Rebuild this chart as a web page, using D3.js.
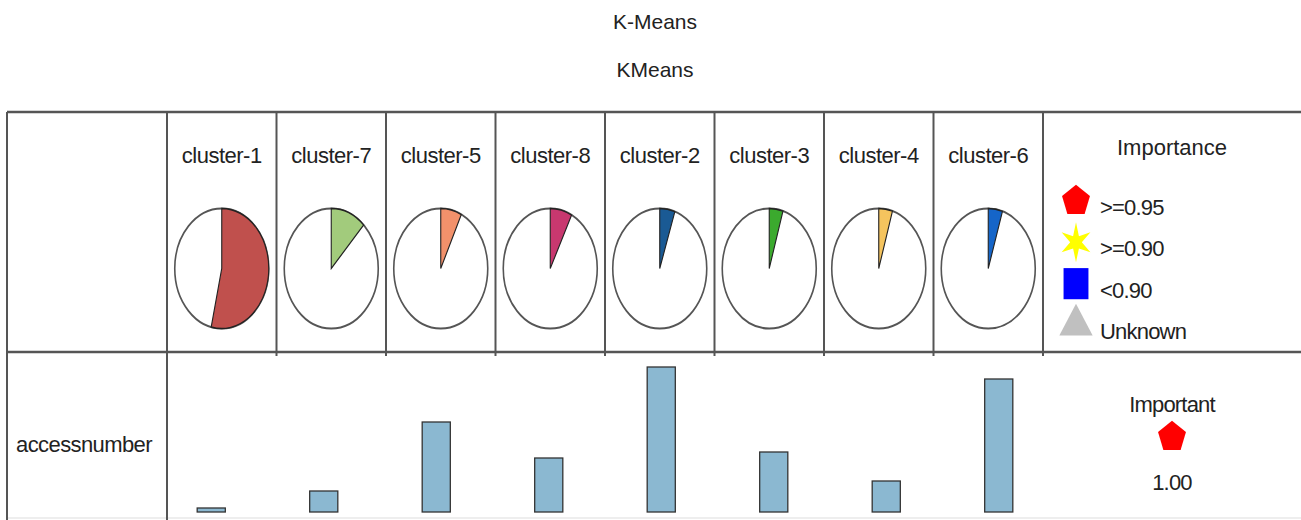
<!DOCTYPE html>
<html>
<head>
<meta charset="utf-8">
<script src="https://cdn.jsdelivr.net/npm/d3@7"></script>
<style>
  body { margin: 0; background: #fff; }
  svg text { font-family: "Liberation Sans", Arial, sans-serif; fill: #222; }
</style>
</head>
<body>
<svg id="chart" width="1301" height="520"></svg>
<script>
// data
var clusters = ['cluster-1', 'cluster-7', 'cluster-5', 'cluster-8', 'cluster-2', 'cluster-3', 'cluster-4', 'cluster-6'];
var clusterShare = [0.536, 0.121, 0.072, 0.075, 0.052, 0.047, 0.047, 0.049];
var clusterColors = ['#C0504D', '#A2CB7C', '#F2916B', '#C8386F', '#1A5A94', '#3BAA2E', '#F5C45E', '#1565C8'];
var accessnumber = [4, 21, 90, 54, 145, 60, 31, 133];
var legendLabels = ['>=0.95', '>=0.90', '<0.90', 'Unknown'];
var legendColors = ['#FF0000', '#FFFF00', '#0000FF', '#C0C0C0'];

// custom symbols (d3 has no pentagon / 6-point star)
function polySymbol(n, inner) {
    return {
        draw: function(ctx, size) {
            var r = Math.sqrt(size) * 0.62;
            var pts = inner ? n * 2 : n;
            for (var k = 0; k < pts; k++) {
                var a = -Math.PI / 2 + k * 2 * Math.PI / pts;
                var rr = (inner && k % 2) ? r * inner : r;
                if (k == 0) ctx.moveTo(rr * Math.cos(a), rr * Math.sin(a));
                else ctx.lineTo(rr * Math.cos(a), rr * Math.sin(a));
            }
            ctx.closePath();
        }
    };
}
var legendSymbols = [polySymbol(5), polySymbol(6, 0.35), d3.symbolSquare, d3.symbolTriangle];

var svg = d3.select('#chart');

// table geometry
var tLeft = 7, tTop = 112, headerBottom = 352, tBottom = 518;
var firstCol = 167, colW = 109.5;
var lineColor = '#555';

var col = d3.scaleBand().domain(clusters).range([firstCol, firstCol + colW * clusters.length]);

// titles
svg.append('text').attr('x', 655).attr('y', 29).attr('text-anchor', 'middle')
    .style('font-size', '21px').text('K-Means');
svg.append('text').attr('x', 655).attr('y', 77).attr('text-anchor', 'middle')
    .style('font-size', '21px').text('KMeans');

// grid lines
svg.append('line').attr('x1', tLeft).attr('x2', 1301).attr('y1', tTop).attr('y2', tTop)
    .attr('stroke', lineColor).attr('stroke-width', 2.5);
svg.append('line').attr('x1', tLeft).attr('x2', 1301).attr('y1', headerBottom).attr('y2', headerBottom)
    .attr('stroke', lineColor).attr('stroke-width', 2.5);
svg.append('line').attr('x1', tLeft).attr('x2', 1301).attr('y1', tBottom).attr('y2', tBottom)
    .attr('stroke', '#ddd').attr('stroke-width', 1);
svg.append('line').attr('x1', tLeft).attr('x2', tLeft).attr('y1', tTop).attr('y2', 520)
    .attr('stroke', lineColor).attr('stroke-width', 2);
svg.append('line').attr('x1', firstCol).attr('x2', firstCol).attr('y1', tTop).attr('y2', 520)
    .attr('stroke', lineColor).attr('stroke-width', 2);

clusters.forEach(function(c) {
    var x = col(c) + col.bandwidth();
    svg.append('line').attr('x1', x).attr('x2', x).attr('y1', tTop).attr('y2', headerBottom + 4)
        .attr('stroke', lineColor).attr('stroke-width', 2);
});

// cluster headers + pies
var pie = d3.pie().sort(null).value(function(d) { return d; });
var rx = 47, ry = 60;
var arc = d3.arc().innerRadius(0).outerRadius(rx);

clusters.forEach(function(c, i) {
    var cx = col(c) + col.bandwidth() / 2;
    svg.append('text').attr('x', cx).attr('y', 163).attr('text-anchor', 'middle')
        .style('font-size', '22px').style('letter-spacing', '-0.5px').text(c);

    var g = svg.append('g').attr('transform', 'translate(' + cx + ',268.5) scale(1,' + (ry / rx) + ')');
    g.append('ellipse').attr('rx', rx).attr('ry', rx)
        .attr('fill', '#fff').attr('stroke', '#555').attr('stroke-width', 1.6);
    var slices = pie([clusterShare[i], 1 - clusterShare[i]]);
    g.append('path').attr('d', arc(slices[0]))
        .attr('fill', clusterColors[i]).attr('stroke', '#222').attr('stroke-width', 1.1);
});

// importance legend
svg.append('text').attr('x', 1172).attr('y', 155).attr('text-anchor', 'middle')
    .style('font-size', '22px').text('Importance');

var ly = d3.scalePoint().domain(legendLabels).range([205, 329]);
legendLabels.forEach(function(l, i) {
    var y = ly(l);
    var size = [560, 720, 620, 480][i];
    var sy = [1.1, 1.2, 1.25, 1.1][i];
    svg.append('path').attr('d', d3.symbol().type(legendSymbols[i]).size(size)())
        .attr('transform', 'translate(1076,' + (y - 4) + ') scale(1,' + sy + ')')
        .attr('fill', legendColors[i]);
    svg.append('text').attr('x', 1100).attr('y', y + 10)
        .style('font-size', '22px').style('letter-spacing', '-0.8px').text(l);
});

// bottom row: accessnumber bars
svg.append('text').attr('x', 84).attr('y', 452).attr('text-anchor', 'middle')
    .style('font-size', '22px').style('letter-spacing', '-0.6px').text('accessnumber');

var bx = d3.scaleBand().domain(clusters).range([155, 1055]).paddingInner(0.75).paddingOuter(0.375);
var by = d3.scaleLinear().domain([0, 150]).range([512, 362]);

svg.selectAll('rect.bar')
    .data(accessnumber)
    .enter()
    .append('rect')
    .attr('class', 'bar')
    .attr('x', function(d, i) { return bx(clusters[i]); })
    .attr('width', bx.bandwidth())
    .attr('y', function(d) { return by(d); })
    .attr('height', function(d) { return by(0) - by(d); })
    .attr('fill', '#8BB8D1')
    .attr('stroke', '#333')
    .attr('stroke-width', 1.3);

svg.append('text').attr('x', 1172).attr('y', 412).attr('text-anchor', 'middle')
    .style('font-size', '22px').style('letter-spacing', '-0.8px').text('Important');
svg.append('path').attr('d', d3.symbol().type(legendSymbols[0]).size(560)())
    .attr('transform', 'translate(1172,437) scale(1,1.1)')
    .attr('fill', '#FF0000');
svg.append('text').attr('x', 1172).attr('y', 490).attr('text-anchor', 'middle')
    .style('font-size', '22px').style('letter-spacing', '-0.8px').text('1.00');
</script>
</body>
</html>
